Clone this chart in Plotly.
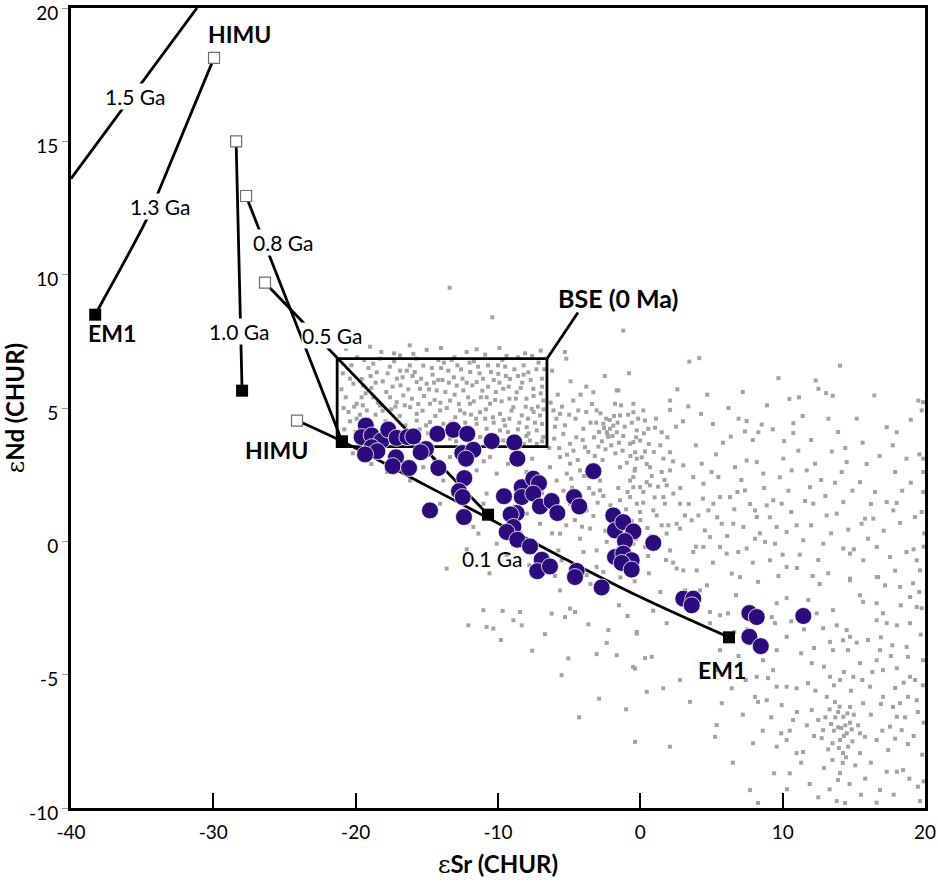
import plotly.graph_objects as go

# ---------------- data ----------------
# mixing curves (eSr, eNd); first point = HIMU end, last = EM1 end
curve_15_x = [-40.0, -31.15]
curve_15_y = [13.6, 20.0]
curve_13_x = [-29.95, -33.82, -34.66, -37.75, -38.3]
curve_13_y = [18.13, 13.15, 12.1, 9.03, 8.5]
curve_10_x = [-28.4, -27.98]
curve_10_y = [15.0, 5.65]
curve_08_x = [-27.7, -20.96]
curve_08_y = [12.95, 3.75]
curve_05_x = [-26.37, -10.7]
curve_05_y = [9.7, 1.0]
curve_01_x = [-24.12, -20.96, -15.0, -10.0, -5.0, 0.0, 6.23]
curve_01_y = [4.53, 3.75, 2.08, 0.68, -0.74, -2.09, -3.6]

himu_x = [-29.95, -28.4, -27.7, -26.37, -24.12]
himu_y = [18.13, 15.0, 12.95, 9.7, 4.53]
em1_x = [-38.3, -27.98, -20.96, -10.7, 6.23]
em1_y = [8.5, 5.65, 3.75, 1.0, -3.6]

bse_x = [-21.3, -6.56, -6.56, -21.3, -21.3]
bse_y = [6.85, 6.85, 3.55, 3.55, 6.85]
bse_leader_x = [-6.56, -4.38]
bse_leader_y = [6.85, 8.58]

# samples (purple)
samp_x = [-19.29, -19.58, -18.87, -18.17, -17.71, -17.12, -16.37, -15.95, -18.87, -18.48,
          -19.34, -17.17, -17.4, -16.25, -15.06, -15.43, -14.26, -13.14, -12.16, -14.19,
          -12.51, -11.73, -12.25, -10.44, -8.85, -8.64, -12.37, -12.74, -12.48, -14.78,
          -12.39, -9.58, -8.33, -7.52, -7.12, -8.33, -7.52, -7.05, -6.23, -5.83,
          -8.69, -9.11, -8.92, -9.39, -8.64, -7.75, -6.93, -7.24, -6.35, -4.47,
          -4.59, -2.72, -4.66, -4.29, -3.3, -1.9, -1.78, -1.2, -0.49, -1.08,
          0.91, -1.78, -1.2, -0.61, -1.31, -0.61, 3.02, 3.72, 3.61, 7.66,
          8.18, 11.45, 7.66, 8.46]
samp_y = [4.34, 3.91, 3.97, 3.78, 4.19, 3.88, 3.91, 3.93, 3.53, 3.38,
          3.26, 3.15, 2.82, 2.75, 3.46, 3.34, 4.03, 4.18, 4.03, 2.75,
          3.31, 3.43, 3.1, 3.76, 3.71, 3.1, 2.37, 1.88, 1.66, 1.16,
          0.91, 1.69, 2.03, 2.35, 2.18, 1.66, 1.79, 1.31, 1.51, 1.06,
          1.06, 1.01, 0.54, 0.35, 0.06, -0.19, -0.69, -1.12, -0.94, -1.11,
          -1.34, -1.73, 1.66, 1.31, 2.63, 0.97, 0.41, 0.72, 0.37, 0.01,
          -0.06, -0.59, -0.46, -0.71, -0.81, -1.06, -2.15, -2.15, -2.4, -2.69,
          -2.84, -2.8, -3.58, -3.93]

# global OIB compilation (grey), grouped by area of the diagram
grey_bse = [(-20.68,7.22),(-16.88,6.97),(-15.95,7.03),(-15.01,7.18),(-14.19,6.8),(-13.25,6.8),(-18.76,6.66),
    (-16.88,6.4),(-16.41,6.4),(-15.25,6.59),(-13.49,6.4),(-9.98,6.28),(-9.16,6.09),(-7.87,6.34),(-18.52,6.34),
    (-19.58,6.09),(-20.16,5.91),(-19.47,5.84),(-19.58,5.4),(-18.76,5.4),(-17.59,5.4),(-16.65,5.47),(-15.71,5.97),
    (-15.01,5.91),(-15.48,5.72),(-14.31,5.66),(-12.9,5.84),(-12.44,5.66),(-11.5,5.97),(-10.8,5.4),(-9.63,5.72),
    (-8.69,5.59),(-7.52,5.72),(-6.82,5.28),(-19.93,5.16),(-19.22,4.91),(-18.29,5.09),(-17.12,5.22),(-16.18,5.03),
    (-15.71,4.78),(-14.78,5.16),(-14.07,4.91),(-13.37,5.28),(-12.67,4.91),(-11.97,5.16),(-11.26,4.84),(-10.56,5.16),
    (-9.86,4.78),(-8.92,5.03),(-8.33,4.72),(-7.63,4.97),(-7.05,4.72),(-19.93,4.6),(-15.71,4.53),(-14.78,4.47),
    (-13.84,4.41),(-12.9,4.28),(-11.5,4.41),(-10.8,4.22),(-9.86,4.16),(-9.51,4.34),(-7.98,4.28),(-7.28,4.16),
    (-6.82,3.91),(-7.75,3.78),(-9.63,3.78),(-11.26,3.91),(-13.37,3.85),(-7.28,3.66),
    (-20.9,6.3),(-20.3,6.6),(-19.9,6.9),(-19.1,6.5),(-18.3,6.85),(-17.6,6.55),(-17.1,6.1),(-16.0,6.2),(-14.6,6.25),
    (-14.0,6.5),(-13.1,6.15),(-12.6,6.45),(-12.0,6.7),(-11.3,6.3),(-10.7,6.6),(-10.3,6.05),(-9.5,6.55),(-8.6,6.2),
    (-8.2,6.6),(-7.3,6.45),(-6.9,6.1),(-20.7,5.4),(-20.1,5.05),(-18.9,5.75),(-18.1,6.0),(-17.4,5.8),(-16.3,5.7),
    (-14.5,5.95),(-13.7,5.6),(-13.9,6.05),(-12.1,5.4),(-11.8,5.85),(-11.1,5.65),(-10.2,5.3),(-9.9,5.95),(-9.2,5.35),
    (-8.3,5.95),(-8.0,5.35),(-7.2,5.05),(-6.9,5.8),(-20.5,4.85),(-19.0,4.4),(-18.6,4.75),(-17.9,4.5),(-17.5,4.95),
    (-16.9,4.7),(-16.5,4.35),(-15.3,4.9),(-14.4,4.7),(-13.0,4.65),(-12.3,4.45),(-11.9,4.75),(-10.9,4.6),(-10.3,4.45),
    (-9.2,4.6),(-8.6,4.2),(-7.9,4.6),(-7.5,4.85),(-6.9,4.4),(-14.9,4.05),(-12.6,3.95),(-10.1,3.9),(-8.9,3.85),
    (-8.2,3.65),(-18.2,7.1),(-17.3,7.05),(-12.2,7.1),(-10.9,7.0),(-9.4,6.95),(-8.1,7.05),(-13.4,9.51),(-10.4,8.4),
    (-1.2,7.9),(-5.3,7.1),(-5.2,6.85),
    (-20.8,4.2),(-20.4,4.5),(-20.0,4.1),(-19.7,4.75),(-19.5,5.1),(-19.3,5.55),(-18.95,6.2),(-18.6,5.95),(-18.45,5.2),
    (-18.1,4.9),(-17.85,5.6),(-17.75,6.3),(-17.3,6.75),(-17.2,5.05),(-16.85,5.85),(-16.7,6.15),(-16.55,5.1),(-16.2,6.6),
    (-16.05,5.35),(-15.85,6.35),(-15.6,5.15),(-15.4,6.1),(-15.2,5.45),(-15.05,4.35),(-14.85,5.7),(-14.65,6.5),(-14.45,5.3),
    (-14.2,6.05),(-14.05,5.2),(-13.8,6.7),(-13.6,5.0),(-13.45,5.95),(-13.2,4.45),(-13.05,5.5),(-12.85,6.6),(-12.75,5.15),
    (-12.5,6.1),(-12.35,4.8),(-12.2,5.95),(-11.95,6.35),(-11.7,5.25),(-11.55,4.6),(-11.4,6.55),(-11.2,5.4),(-11.05,6.1),
    (-10.85,4.95),(-10.7,5.8),(-10.5,6.35),(-10.35,4.65),(-10.15,5.6),(-10.0,6.6),(-9.75,5.25),(-9.6,4.55),(-9.45,6.2),
    (-9.25,5.8),(-9.05,4.9),(-8.85,6.45),(-8.75,5.35),(-8.5,4.45),(-8.4,5.75),(-8.2,6.25),(-8.05,5.05),(-7.85,4.05),
    (-7.7,6.05),(-7.5,5.45),(-7.4,4.45),(-7.15,6.7),(-7.0,5.55),(-6.8,4.95),(-6.75,6.45),(-16.75,3.95),(-15.5,4.2),
    (-14.1,4.25),(-13.65,4.1),(-11.8,4.05),(-10.6,3.95),(-9.3,4.1),(-8.0,3.95),(-6.9,3.75),(-12.95,3.75),(-14.35,3.8),
    (-15.75,6.85),(-13.05,6.9),(-11.7,6.75),(-9.7,6.8),(-8.6,6.9),(-7.6,6.95),(-19.4,6.8),(-20.4,6.1),(-21.0,5.7),
    (-20.85,5.0),(-19.0,7.3),(-16.2,7.35),(-14.0,7.25),(-11.5,7.2),(-9.9,7.25),(-7.0,7.15)]

grey_mid = [(-6.11,4.91),(-5.64,4.78),(-4.71,5.28),(-4.36,4.91),(-3.07,4.91),(-2.6,4.41),(-2.13,4.22),(-1.9,4.34),
    (-2.36,4.09),(-1.66,4.09),(-2.25,3.91),(-1.43,4.72),(-1.66,5.66),(-3.3,5.59),(-0.49,5.16),(0.21,4.91),(-4.01,4.22),
    (-5.41,4.03),(-4.94,3.66),(-3.89,3.53),(-0.72,3.66),(-0.02,3.78),(-5.64,3.16),(-4.94,2.91),(-5.17,2.54),(-5.88,2.28),
    (-4.24,2.66),(-2.83,2.28),(-1.43,2.78),(-0.72,2.28),(-0.02,2.03),(-6.35,2.78),(-7.28,2.03),(-10.56,3.16),(-10.09,2.54),
    (-11.5,2.66),(-13.37,3.16),(-13.84,2.28),(-16.18,2.28),(-16.65,2.66),(-15.25,2.78),(-12.9,2.03),(-1.54,5.66),(-1.78,5.16),
    (-2.4,4.6),(-2.9,4.1),(-3.5,4.45),(-2.7,3.75),(-1.2,3.95),(-3.2,3.2),(-4.5,3.9),(-6.0,4.3),(-5.8,5.5),(-4.9,6.0),
    (-3.8,5.8),(-2.5,6.2),(-6.2,6.4),(-0.8,6.3),(-0.49,4.84),(0.33,4.53),(-0.25,4.16),(0.56,4.22),(1.03,4.26),(1.5,4.09),
    (-0.49,3.72),(-0.37,3.34),(0.33,3.37),(-0.25,3.1),(1.62,3.1),(2.09,3.34),(3.02,2.85),(-0.37,2.72),(-0.49,2.41),
    (0.68,2.78),(1.5,2.6),(2.09,2.66),(-0.25,1.41),(-0.02,1.1),(1.5,0.6),(1.85,0.29),(-0.49,-0.09),(0.33,-0.21),
    (2.09,-0.34),(2.55,-1.02),(-5.64,-1.84),(-10.09,-0.09),(-11.38,0.29),(-13.61,-1.02),(-7.05,0.66),(-5.64,0.29),
    (-4.24,0.1),(-3.54,0.48),(-3.07,-0.34),(-2.36,-0.02),(-1.9,-0.71),(-3.07,-0.96),(-3.77,-1.27),(-5.76,-0.34),
    (-5.53,-0.71),(-8.92,-0.15),(-6.35,1.54),(-4.94,1.41),(-3.77,1.16),(-3.3,1.79),(-2.83,1.91),(-0.72,1.66),(-0.49,2.03),
    (-1.43,1.54),(-7.17,1.1),(-7.98,1.04),(-10.44,1.04),(-11.73,0.54),(-10.8,1.79),(-11.03,1.41),(-14.07,1.41),(-6.4,3.5),
    (-7.6,3.1),(-9.3,2.9),(-8.0,2.6),(-11.0,3.0),(-12.0,2.9),(-14.5,3.1),(-17.8,2.6),(-18.9,2.9),(-19.6,3.2),(-20.2,3.3),
    (-6.9,1.8),(-5.9,0.9),(-4.6,0.8),(-2.2,0.9),(-1.0,1.2),(0.5,0.5),(-4.0,-0.4),(-6.5,-0.6),
    (-6.3,5.2),(-6.05,3.85),(-5.9,4.6),(-5.7,3.5),(-5.5,5.05),(-5.3,4.35),(-5.15,3.25),(-5.0,4.75),(-4.85,2.35),
    (-4.7,3.4),(-4.55,4.6),(-4.4,3.05),(-4.2,5.5),(-4.05,3.8),(-3.95,2.45),(-3.8,4.85),(-3.65,3.35),(-3.5,2.85),
    (-3.4,5.15),(-3.25,3.9),(-3.1,4.45),(-2.95,3.55),(-2.8,4.8),(-2.65,3.05),(-2.55,4.25),(-2.45,3.45),(-2.3,4.0),
    (-2.15,4.55),(-2.05,3.6),(-1.95,3.95),(-1.85,4.7),(-1.75,3.3),(-1.6,4.45),(-1.5,3.7),(-1.35,5.1),(-1.25,3.4),
    (-1.1,4.3),(-0.95,2.95),(-0.85,4.75),(-0.7,3.2),(-0.6,4.45),(-0.4,2.65),(-0.3,3.9),(-0.15,4.6),(0.1,3.15),
    (0.25,4.05),(0.45,2.9),(0.6,3.65),(0.8,2.45),(0.95,3.35),(1.1,4.6),(1.25,2.05),(1.4,3.6),(1.7,2.3),(1.9,3.9),
    (2.3,3.0),(2.5,4.3),(-6.6,1.2),(-6.2,0.3),(-5.4,1.9),(-5.2,0.6),(-4.8,2.0),(-4.4,1.2),(-4.1,0.55),(-3.6,2.0),
    (-3.3,0.95),(-3.0,1.45),(-2.6,1.7),(-2.45,0.4),(-2.1,1.35),(-1.7,0.2),(-1.55,2.0),(-1.2,0.5),(-0.9,1.85),
    (-0.6,0.75),(-0.3,0.1),(0.0,0.8),(0.2,1.45),(0.55,-0.55),(0.75,0.2),(1.0,1.65),(1.3,-0.1),(-6.0,-1.3),(-4.8,-0.9),
    (-3.5,-1.6),(-2.6,-1.15),(-1.4,-1.35),(-0.4,-1.5),(0.6,-1.2),(1.8,-0.7),(-7.8,-0.9),(-8.4,0.3),(-9.4,-0.5),
    (-10.6,-1.2),(-12.2,-0.3)]

grey_low = [(-11.03,-2.58),(-9.67,-2.61),(-8.45,-2.65),(-12.08,-3.15),(-10.8,-3.21),(-10.33,-3.27),(-8.92,-2.96),
    (-8.33,-3.15),(-6.7,-3.48),(-6.23,-2.71),(-4.94,-2.52),(-4.59,-2.65),(-5.29,-2.84),(-3.65,-3.11),(-2.25,-3.33),
    (-2.36,-3.81),(-3.07,-4.23),(-1.66,-4.27),(-5.06,-4.39),(-5.53,-5.02),(-0.25,-3.46),(-0.37,-4.77),(-0.37,-7.52),
    (-0.51,-4.71),(0.45,-5.64),(1.6,-5.51),(2.79,-5.2),(0.33,-4.38),(0.8,-4.33),(-0.25,-3.4),(1.85,-3.07),(3.96,-2.32),
    (5.36,-4.83),(4.89,-3.07),(2.08,-7.7),(3.49,-6.02),(-1.5,-2.4),(-0.9,-2.8),(0.9,-2.6),(1.4,-1.9),(-2.9,-5.9),
    (-4.3,-6.6),(-1.0,-6.3),(-7.6,-4.1),(-9.8,-3.7)]

grey_right = [(3.44,6.74),(4.14,6.87),(14.03,6.59),(9.7,6.12),(12.32,6.03),(12.51,5.72),(13.05,5.56),(13.52,5.46),
    (16.44,5.47),(19.53,5.28),(19.86,5.22),(19.77,4.91),(2.09,5.28),(2.09,4.93),(3.37,5.06),(4.26,4.78),(10.47,5.34),
    (11.15,5.4),(13.21,4.6),(10.75,4.43),(10.75,4.06),(10.1,3.76),(8.53,4.38),(8.29,4.09),(7.47,4.51),(7.35,4.12),
    (6.35,3.93),(19.0,4.56),(17.31,4.28),(18.01,4.09),(15.62,3.7),(17.73,3.6),(13.45,3.37),(14.5,2.97),(14.15,2.6),
    (13.68,2.2),(15.43,2.22),(16.49,1.85),(17.31,1.47),(18.01,1.44),(17.77,1.16),(19.6,3.26),(19.88,3.1),(19.88,2.6),
    (19.88,1.85),(19.77,1.1),(19.3,0.91),(18.25,0.69),(16.37,0.85),(15.79,0.85),(15.55,0.66),(14.61,0.44),(14.26,1.47),
    (13.8,1.04),(13.09,0.97),(12.15,1.41),(11.57,1.51),(11.92,2.03),(12.27,2.91),(11.69,2.66),(10.63,2.66),(10.05,3.1),
    (8.64,2.54),(8.18,2.97),(7.47,3.03),(6.65,2.78),(5.32,3.26),(4.31,2.91),(3.72,2.41),(5.48,2.41),(4.43,2.16),
    (6.3,1.66),(7.35,1.91),(6.82,1.85),(5.6,1.66),(5.13,1.41),(4.78,1.16),(4.08,0.97),(3.14,0.97),(2.79,1.41),
    (2.32,1.79),(1.85,2.1),(1.62,1.66),(1.73,1.41),(0.68,2.1),(0.45,2.22),(0.21,1.85),(0.91,1.16),(1.15,0.97),
    (2.55,0.66),(1.97,0.6),(2.79,0.48),(3.61,0.79),(4.54,0.41),(4.89,0.16),(5.72,0.66),(6.53,0.66),(7.24,0.54),
    (8.18,0.91),(8.06,1.16),(8.88,1.35),(9.34,1.54),(9.93,1.41),(9.58,0.54),(10.28,0.35),(10.98,0.6),(11.45,0.04),
    (9.46,-0.09),(8.76,-0.02),(8.06,0.1),(7.47,-0.27),(6.88,-0.4),(6.07,-0.46),(5.6,-0.21),(4.43,-0.21),(3.72,-0.4),
    (9.11,-0.71),(10.28,-0.96),(12.86,-0.09),(14.26,-0.27),(14.73,-0.46),(15.67,-0.71),(16.61,-0.21),(17.54,-0.59),
    (19.42,-0.71),(19.65,-1.09),(14.73,-1.4),(16.61,-1.34),(6.42,-1.21),(7.0,-1.34),(3.96,-1.09),(3.02,-1.09),
    (2.6,5.7),(3.0,4.5),(3.9,3.6),(4.7,5.5),(5.1,4.4),(5.8,3.7),(6.2,5.0),(6.9,4.6),(7.2,5.6),(7.9,3.8),(8.9,5.1),
    (9.3,4.2),(9.8,2.4),(10.4,1.9),(11.1,3.4),(11.4,4.7),(12.0,3.8),(12.7,2.3),(13.0,1.7),(13.9,4.1),(14.4,3.5),
    (14.9,1.9),(15.2,4.6),(15.9,2.9),(16.2,1.4),(16.8,3.2),(17.1,0.4),(17.9,2.6),(18.4,1.9),(18.7,3.1),(19.2,-0.3),
    (19.0,2.2),(2.8,2.0),(3.4,1.4),(3.9,-0.2),(4.4,1.6),(5.0,2.6),(5.4,0.9),(6.1,0.2),(6.6,1.2),(7.1,2.3),(7.7,1.4),
    (8.4,0.3),(8.7,2.0),(9.1,0.9),(10.0,-0.5),(10.6,1.1),(11.2,-0.5),(12.0,0.6),(12.5,-0.7),(13.4,0.3),(15.0,-0.3),
    (16.0,0.1),(17.9,-1.1),(18.7,-0.4),(2.3,-0.8),(5.1,-0.8),(7.9,-0.8),(9.7,-1.3),(12.1,-1.3)]

grey_deep = [(14.26,-6.58),(13.9,-6.97),(14.5,-7.2),(14.03,-7.45),(13.5,-7.57),(14.73,-6.8),(13.1,-5.83),(13.68,-6.03),
    (14.73,-6.21),(12.84,-7.08),(12.74,-7.38),(14.24,-7.94),(15.43,-7.94),(14.22,-8.31),(14.03,-8.69),(13.89,-8.95),
    (11.43,-7.9),(10.98,-7.94),(9.93,-6.14),(10.73,-6.7),(12.04,-6.33),(15.65,-6.07),(16.14,-5.45),(17.05,-5.83),
    (17.75,-6.21),(18.25,-6.07),(18.8,-5.83),(19.42,-5.96),(18.02,-6.58),(17.54,-6.95),(18.36,-7.08),(16.6,-7.45),
    (17.41,-7.83),(17.31,-8.64),(18.02,-8.64),(18.46,-8.58),(16.84,-9.33),(19.65,-9.74),(15.43,-7.2),(15.78,-7.33),
    (16.6,-4.46),(17.05,-4.83),(18.02,-4.76),(18.8,-4.33),(19.86,-4.46),(18.71,-3.96),(18.95,-3.07),(18.02,-3.15),
    (17.31,-3.07),(16.6,-2.96),(17.05,-2.7),(15.65,-2.27),(16.6,-2.32),(19.16,-1.57),(18.95,-2.09),(19.42,-2.46),
    (16.84,-4.08),(16.0,-3.7),(14.73,-3.58),(14.59,-4.08),(14.24,-3.71),(13.54,-4.08),(13.33,-5.08),(14.03,-5.2),
    (14.96,-5.08),(15.43,-4.57),(12.84,-3.26),(12.39,-2.7),(13.54,-2.58),(13.8,-3.15),(14.5,-3.33),(12.04,-4.57),
    (11.78,-5.32),(10.98,-5.51),(10.28,-5.45),(9.58,-5.45),(8.97,-5.13),(9.33,-4.83),(8.62,-4.46),(8.18,-5.08),
    (8.06,-5.83),(8.27,-6.02),(8.88,-5.96),(9.58,-4.08),(10.28,-3.58),(9.46,-3.07),(9.23,-2.84),(9.58,-2.32),
    (10.28,-2.13),(13.33,-3.77),(7.92,-7.57),(9.58,-7.7),(10.28,-7.45),(7.7,-9.33),(8.27,-9.81),(5.36,-6.89),
    (5.25,-7.33),(5.72,-6.07),(4.89,-2.65),(5.6,-2.77),(6.16,-2.7),(6.42,-5.51),(5.6,-4.08),(4.68,-1.65),(4.19,-1.84),
    (3.14,-1.84),(6.72,-2.02),(8.27,-1.52),(15.43,-2.02),(14.73,-1.46),(16.7,-1.34),(17.19,-1.65),(18.25,-1.71),
    (19.77,-2.51),(18.95,-5.08),(13.8,-9.74),(14.38,-9.81),
    (13.3,-6.3),(13.7,-6.6),(14.0,-6.2),(14.4,-6.9),(14.9,-7.5),(13.6,-7.1),(13.2,-7.8),(14.6,-7.7),(14.1,-7.0),
    (13.9,-6.4),(14.3,-7.3),(15.0,-6.5),(12.5,-6.7),(15.3,-6.9),(13.5,-8.2),(12.9,-8.5),(16.2,-6.5),(16.9,-6.1),
    (18.6,-6.6),(19.2,-7.3),(19.8,-8.0),(18.9,-8.9),(19.5,-9.2),(17.8,-9.5),(16.2,-8.3),(15.8,-8.9),(11.9,-9.1),
    (10.5,-8.7),(12.3,-5.6),(11.3,-4.2),(10.6,-3.0),(11.8,-2.2),(12.6,-1.6),(11.0,-1.0),(13.2,-1.2),(7.5,-3.3),
    (6.9,-4.3),(7.2,-6.5),(6.5,-8.3),(19.9,-6.8),(19.7,-3.5),(19.9,-0.2),(19.95,0.3),(19.6,-1.9),
    (12.2,-4.0),(12.9,-4.7),(13.6,-5.4),(14.3,-4.9),(14.8,-5.6),(15.6,-5.2),(16.3,-4.9),(17.6,-4.3),(17.9,-5.5),
    (18.5,-5.3),(19.3,-5.2),(15.2,-3.8),(16.9,-3.6),(17.7,-3.9),(18.3,-2.4),(13.0,-6.6),(12.2,-7.3),(11.7,-6.9),
    (11.0,-6.4),(10.5,-7.1),(9.9,-7.2),(9.2,-6.6),(13.4,-6.85),(14.55,-6.45),(14.85,-7.05),(13.95,-7.75),(14.45,-8.1),
    (15.1,-8.4),(14.7,-9.1),(13.3,-9.3),(12.5,-9.6),(15.5,-9.5),(16.6,-9.8),(17.0,-7.1),(17.9,-7.4),(18.8,-7.6),
    (19.5,-6.4),(19.85,-5.4),(19.9,-9.0),(11.3,-8.3),(10.3,-9.3),(9.4,-8.7),(8.6,-7.1),(7.4,-5.2),(6.6,-3.4),
    (7.8,-2.5),(11.5,-3.3)]

x_ticks = [-40, -30, -20, -10, 0, 10, 20]
y_ticks = [-10, -5, 0, 5, 10, 15, 20]

# labels: (text, eSr, eNd, font size, bold, white background)
labels = [
    ("HIMU", -28.13, 19.03, 23, True, False),
    ("EM1", -37.12, 7.83, 23, True, False),
    ("HIMU", -25.53, 3.41, 23, True, False),
    ("EM1", 5.74, -4.83, 23, True, False),
    ("BSE (0 Ma)", -1.57, 9.14, 25, True, False),
    ("1.5 Ga", -35.5, 16.67, 21, False, True),
    ("1.3 Ga", -33.75, 12.55, 21, False, True),
    ("1.0 Ga", -28.2, 7.87, 21, False, True),
    ("0.8 Ga", -25.1, 11.2, 21, False, True),
    ("0.5 Ga", -21.66, 7.72, 21, False, True),
    ("0.1 Ga", -10.42, -0.64, 21, False, False),
]

# ---------------- figure ----------------
FONT = "Lato, 'Open Sans', sans-serif"
GREY = "#a3a3a3"
PURPLE = "#2c0b7c"

fig = go.Figure()

grey_all = grey_bse + grey_mid + grey_low + grey_right + grey_deep
fig.add_trace(go.Scatter(
    x=[p[0] for p in grey_all], y=[p[1] for p in grey_all], mode="markers",
    marker=dict(symbol="square", size=4, color=GREY, line=dict(width=0)),
    hoverinfo="skip", showlegend=False))

line_style = dict(color="black", width=2.8)
for cx, cy in [(curve_15_x, curve_15_y), (curve_13_x, curve_13_y), (curve_10_x, curve_10_y),
               (curve_08_x, curve_08_y), (curve_05_x, curve_05_y), (curve_01_x, curve_01_y),
               (bse_x, bse_y), (bse_leader_x, bse_leader_y)]:
    fig.add_trace(go.Scatter(x=cx, y=cy, mode="lines", line=line_style,
                             line_shape="spline" if len(cx) > 2 and cx is not bse_x else "linear",
                             hoverinfo="skip", showlegend=False))

fig.add_trace(go.Scatter(
    x=samp_x, y=samp_y, mode="markers",
    marker=dict(symbol="circle", size=17, color=PURPLE, line=dict(color="white", width=0.8)),
    hoverinfo="skip", showlegend=False))

fig.add_trace(go.Scatter(
    x=himu_x, y=himu_y, mode="markers",
    marker=dict(symbol="square", size=11, color="white", line=dict(color="#6e6e6e", width=1.2)),
    hoverinfo="skip", showlegend=False))
fig.add_trace(go.Scatter(
    x=em1_x, y=em1_y, mode="markers",
    marker=dict(symbol="square", size=12, color="black", line=dict(width=0)),
    hoverinfo="skip", showlegend=False))

for text, lx, ly, fs, bold, bg in labels:
    fig.add_annotation(
        x=lx, y=ly, text=f"<b>{text}</b>" if bold else text, showarrow=False,
        font=dict(family=FONT, size=fs, color="black"),
        bgcolor="white" if bg else "rgba(0,0,0,0)", borderpad=0,
        xanchor="center", yanchor="middle")

eps = "<span style=\"font-family:'DejaVu Serif';font-weight:normal\">ε</span>"
fig.update_layout(
    width=938, height=882,
    margin=dict(l=71, r=13, t=8, b=74, autoexpand=False),
    paper_bgcolor="white", plot_bgcolor="white",
    font=dict(family=FONT, size=19, color="black"),
    xaxis=dict(
        range=[-40, 20], tickvals=x_ticks, ticktext=[str(v) for v in x_ticks],
        automargin=False,
        showgrid=False, zeroline=False, showline=True, linecolor="black", linewidth=3, mirror=True,
        ticks="inside", ticklen=15, tickwidth=1.5, tickcolor="black", ticklabelstandoff=5,
        ticklabeloverflow="allow",
        tickfont=dict(family=FONT, size=19, color="black"),
        title=dict(text=f"{eps}<b>Sr (CHUR)</b>", font=dict(family=FONT, size=24, color="black")),
    ),
    yaxis=dict(
        range=[-10, 20], tickvals=y_ticks, ticktext=[str(v) for v in y_ticks],
        automargin=False,
        showgrid=False, zeroline=False, showline=True, linecolor="black", linewidth=3, mirror=True,
        ticks="outside", ticklen=6, tickwidth=1, tickcolor="#9a9a9a",
        ticklabeloverflow="allow", ticklabelshift=5,
        tickfont=dict(family=FONT, size=19, color="black"),
        title=dict(text=f"{eps}<b>Nd (CHUR)</b>", font=dict(family=FONT, size=24, color="black")),
    ),
)

fig.write_html("out.html")
